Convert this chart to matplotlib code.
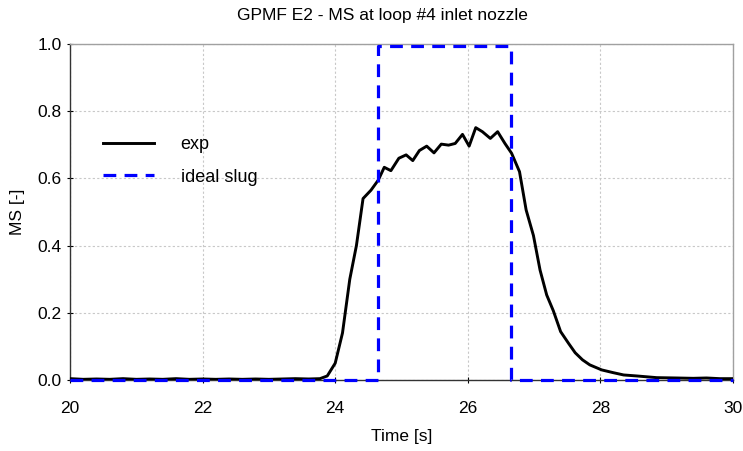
import matplotlib
matplotlib.use("Agg")
import matplotlib.pyplot as plt

plt.rcParams['font.family'] = ['Liberation Sans', 'DejaVu Sans']

# experimental data (time [s], MS [-])
t_exp = [20.0, 20.2, 20.4, 20.6, 20.8, 21.0, 21.2, 21.4, 21.6, 21.8, 22.0, 22.2, 22.4,
         22.6, 22.8, 23.0, 23.2, 23.4, 23.6, 23.77, 23.88, 24.0, 24.11, 24.22, 24.32,
         24.42, 24.54, 24.65, 24.74, 24.84, 24.96, 25.07, 25.17, 25.27, 25.38, 25.49,
         25.60, 25.71, 25.81, 25.92, 26.02, 26.12, 26.22, 26.34, 26.45, 26.56, 26.66,
         26.78, 26.88, 26.99, 27.09, 27.19, 27.29, 27.40, 27.52, 27.62, 27.73, 27.84,
         28.02, 28.19, 28.35, 28.55, 28.85, 29.15, 29.4, 29.6, 29.8, 30.0]
ms_exp = [0.004, 0.002, 0.003, 0.002, 0.004, 0.002, 0.003, 0.002, 0.004, 0.002, 0.003,
          0.002, 0.003, 0.002, 0.003, 0.002, 0.003, 0.004, 0.003, 0.004, 0.012, 0.05,
          0.14, 0.30, 0.40, 0.54, 0.565, 0.595, 0.633, 0.623, 0.66, 0.67, 0.653, 0.683,
          0.696, 0.676, 0.702, 0.699, 0.704, 0.731, 0.696, 0.751, 0.739, 0.719, 0.739,
          0.704, 0.675, 0.62, 0.506, 0.43, 0.327, 0.253, 0.206, 0.144, 0.109, 0.081,
          0.06, 0.045, 0.03, 0.022, 0.015, 0.012, 0.007, 0.006, 0.005, 0.006, 0.004,
          0.004]

# ideal slug
t_slug = [20.0, 24.64, 24.64, 26.65, 26.65, 30.0]
ms_slug = [0.0, 0.0, 0.995, 0.995, 0.0, 0.0]

x_ticks = [20, 22, 24, 26, 28, 30]
y_ticks = [0.0, 0.2, 0.4, 0.6, 0.8, 1.0]
y_ticklabels = ['0.0', '0.2', '0.4', '0.6', '0.8', '1.0']

W, H = 743, 451
fig = plt.figure(figsize=(W / 100, H / 100), dpi=100)
L, R, T, B = 70, 733, 44, 380
ax = fig.add_axes([L / W, 1 - B / H, (R - L) / W, (B - T) / H])

ax.plot(t_exp, ms_exp, color='black', lw=2.1, label='exp', zorder=3)
ax.plot(t_slug, ms_slug, color='#0000ff', lw=2.3, ls=(0, (4, 2.6)), label='ideal slug',
        zorder=4, clip_on=False)

ax.set_xlim(20, 30)
ax.set_ylim(0, 1.0)
ax.set_xticks(x_ticks)
ax.set_yticks(y_ticks)
ax.set_yticklabels(y_ticklabels)
ax.grid(True, color='#c8c8c8', ls=(0, (2, 2)), lw=0.8)
ax.set_axisbelow(True)
for s in ['top', 'right']:
    ax.spines[s].set_color('#a0a0a0')
    ax.spines[s].set_linewidth(1.0)
for s in ['left', 'bottom']:
    ax.spines[s].set_color('#333333')
    ax.spines[s].set_linewidth(1.0)
ax.tick_params(labelsize=12.5, direction='inout', length=4, width=0.8, colors='black')
ax.tick_params(axis='x', pad=13)
ax.tick_params(axis='y', pad=4)

ax.set_xlabel('Time [s]', fontsize=12.5)
ax.xaxis.set_label_coords(0.5, (B - 429) / (B - T))
ax.set_ylabel('MS [-]', fontsize=12.5)
ax.yaxis.set_label_coords((25 - L) / (R - L), 0.5)
ax.set_title('GPMF E2 - MS at loop #4 inlet nozzle', fontsize=12.5, pad=17,
             x=(382 - L) / (R - L))

leg = ax.legend(loc='center left', bbox_to_anchor=((103 - L) / (R - L), (B - 161) / (B - T)),
                frameon=False, fontsize=13, handlelength=2.8, handletextpad=1.5,
                labelspacing=0.85, borderpad=0, borderaxespad=0)

fig.savefig('out.png', dpi=100)
